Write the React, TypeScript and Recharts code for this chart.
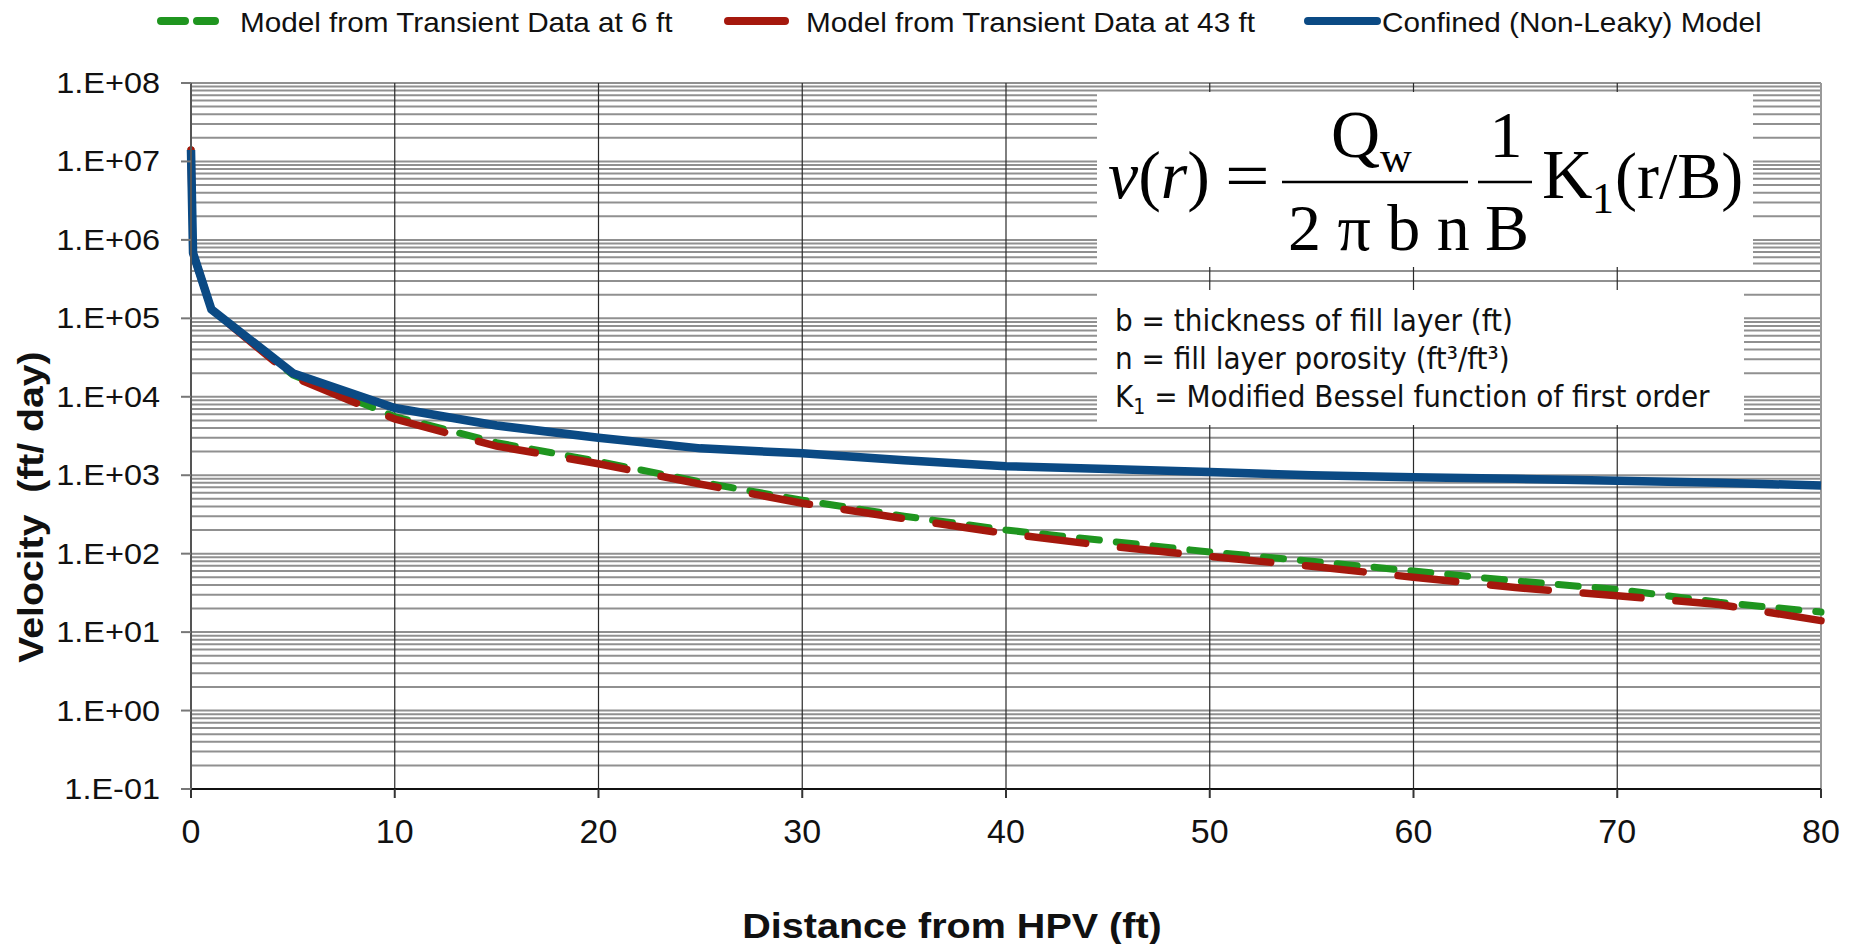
import React from 'react';
import { LineChart, Line, XAxis, YAxis, ReferenceLine, Legend } from 'recharts';

// distance from the HPV (ft) shared by all three model curves
const distance = [0, 0.1, 1, 5, 10, 15, 20, 25, 30, 35, 40, 45, 50, 55, 60, 65, 70, 75, 80];

// velocity (ft/day)
const transient6ftVelocity = [1.4e7, 6.8e5, 1.3e5, 1.9e4, 5.6e3, 2.6e3, 1.5e3, 8.2e2, 4.8e2, 3.0e2, 2.0e2, 1.45e2, 105, 80, 60, 45, 35, 24, 18];
const transient43ftVelocity = [1.4e7, 6.8e5, 1.3e5, 1.8e4, 5.2e3, 2.35e3, 1.4e3, 7.7e2, 4.4e2, 2.8e2, 1.8e2, 1.25e2, 92, 69, 50, 37, 29, 22.5, 14];
const confinedVelocity = [1.4e7, 6.8e5, 1.3e5, 2.0e4, 7.2e3, 4.3e3, 3.0e3, 2.2e3, 1.9e3, 1.55e3, 1.3e3, 1.2e3, 1.1e3, 1.0e3, 9.4e2, 9.0e2, 8.5e2, 8.0e2, 7.4e2];

const xTicks = [0, 10, 20, 30, 40, 50, 60, 70, 80];
const yTicks = [0.1, 1, 10, 1e2, 1e3, 1e4, 1e5, 1e6, 1e7, 1e8];
const yTickLabels = ['1.E-01', '1.E+00', '1.E+01', '1.E+02', '1.E+03', '1.E+04', '1.E+05', '1.E+06', '1.E+07', '1.E+08'];

const seriesNames = [
  'Model from Transient Data at 6 ft',
  'Model from Transient Data at 43 ft',
  'Confined (Non-Leaky) Model',
];

const GREEN = '#1f951f';
const RED = '#a5180d';
const BLUE = '#0b4a84';
const SANS = '"Liberation Sans", Arial, sans-serif';
const SERIF = '"Liberation Serif", "Times New Roman", serif';

const toPoints = (values: number[]) => distance.map((d, i) => ({ distance: d, velocity: values[i] }));

// log gridlines at every 1..9 x 10^n between the axis limits
const minorGrid: number[] = [];
for (let e = -1; e <= 7; e++) {
  for (let m = 1; m <= 9; m++) minorGrid.push(m * Math.pow(10, e));
}
minorGrid.push(1e8);

const YTick = (props: any) => {
  const { x, y, payload } = props;
  const label = yTickLabels[yTicks.indexOf(payload.value)];
  return (
    <text
      transform={`translate(${x},${y}) scale(1.12,1)`}
      dy={10}
      textAnchor="end"
      fontFamily={SANS}
      fontSize={29}
      fill="#111"
    >
      {label}
    </text>
  );
};

const XTick = (props: any) => {
  const { x, y, payload } = props;
  return (
    <text x={x} y={y} dy="0.71em" textAnchor="middle" fontFamily={SANS} fontSize={34} fill="#111">
      {payload.value}
    </text>
  );
};

const XTitle = (props: any) => {
  const vb = props.viewBox;
  const cx = vb.x + vb.width / 2 - 54;
  return (
    <text
      transform={`translate(${cx},${vb.y + 149}) scale(1.13,1)`}
      textAnchor="middle"
      fontFamily={SANS}
      fontWeight="bold"
      fontSize={35}
      fill="#111"
    >
      Distance from HPV (ft)
    </text>
  );
};

const YTitle = (props: any) => {
  const vb = props.viewBox;
  const cy = vb.y + vb.height / 2 + 71;
  return (
    <text
      transform={`translate(${vb.x + 43},${cy}) rotate(-90) scale(1.12,1)`}
      textAnchor="middle"
      fontFamily={SANS}
      fontWeight="bold"
      fontSize={35}
      fill="#111"
      style={{ whiteSpace: 'pre' }}
    >
      {'Velocity  (ft/ day)'}
    </text>
  );
};

const LegendRow = () => (
  <svg width={1860} height={44} style={{ display: 'block' }}>
    <line x1={161} x2={225} y1={21} y2={21} stroke={GREEN} strokeWidth={8} strokeLinecap="round" strokeDasharray="24 12 18 10 0.1 100" />
    <text transform="translate(240,32) scale(1.1,1)" fontFamily={SANS} fontSize={27} fill="#111">{seriesNames[0]}</text>
    <line x1={728} x2={785} y1={21} y2={21} stroke={RED} strokeWidth={8} strokeLinecap="round" />
    <text transform="translate(806,32) scale(1.1,1)" fontFamily={SANS} fontSize={27} fill="#111">{seriesNames[1]}</text>
    <line x1={1308} x2={1377} y1={21} y2={21} stroke={BLUE} strokeWidth={8} strokeLinecap="round" />
    <text transform="translate(1382,32) scale(1.1,1)" fontFamily={SANS} fontSize={27} fill="#111">{seriesNames[2]}</text>
  </svg>
);

// formula and symbol definitions drawn on white panels over the grid
const FormulaPanel = () => (
  <svg
    width={1860}
    height={944}
    style={{ position: 'absolute', left: 0, top: 0, pointerEvents: 'none' }}
  >
    <rect x={1097} y={92} width={656} height={175} fill="#fff" />
    <rect x={1097} y={290} width={647} height={135} fill="#fff" />
    <g fontFamily={SERIF} fill="#000">
      <text x={1108} y={198} fontSize={68}>
        <tspan fontStyle="italic">v</tspan>(<tspan fontStyle="italic">r</tspan>)
      </text>
      <text transform="translate(1225,198) scale(1.2,1)" fontSize={66}>=</text>
      <line x1={1282} x2={1468} y1={182} y2={182} stroke="#000" strokeWidth={2.5} />
      <text x={1331} y={157} fontSize={68}>Q</text>
      <text x={1380} y={172} fontSize={44}>w</text>
      <text x={1288} y={250} fontSize={66} style={{ whiteSpace: 'pre' }}>{'2 π b n'}</text>
      <text x={1506} y={157} fontSize={66} textAnchor="middle">1</text>
      <line x1={1478} x2={1532} y1={182} y2={182} stroke="#000" strokeWidth={2.5} />
      <text x={1507} y={250} fontSize={66} textAnchor="middle">B</text>
      <text x={1542} y={198} fontSize={70}>K</text>
      <text x={1592} y={213} fontSize={44}>1</text>
      <text x={1615} y={198} fontSize={66}>(r/B)</text>
    </g>
    <g fontFamily='"DejaVu Sans Condensed", "DejaVu Sans", sans-serif' fontSize={31} fill="#111">
      <text x={1115} y={331}>b = thickness of fill layer (ft)</text>
      <text x={1115} y={369}>n = fill layer porosity (ft³/ft³)</text>
      <text x={1115} y={407}>
        K<tspan fontSize={21} dy={7}>1</tspan>
        <tspan dy={-7}> = Modified Bessel function of first order</tspan>
      </text>
    </g>
  </svg>
);

export default function App() {
  const green = toPoints(transient6ftVelocity);
  const red = toPoints(transient43ftVelocity);
  const blue = toPoints(confinedVelocity);

  return (
    <div style={{ position: 'absolute', left: 0, top: 0, width: 1860, height: 944, background: '#fff' }}>
      <LineChart width={1860} height={944} margin={{ top: 39, right: 39, left: 0, bottom: 0 }}>
        <XAxis
          dataKey="distance"
          type="number"
          domain={[0, 80]}
          ticks={xTicks}
          interval={0}
          height={155}
          tickSize={9}
          tickMargin={21}
          axisLine={{ stroke: '#111', strokeWidth: 2 }}
          tickLine={{ stroke: '#333', strokeWidth: 2 }}
          tick={<XTick />}
          label={<XTitle />}
        />
        <YAxis
          type="number"
          scale="log"
          domain={[0.1, 1e8]}
          allowDataOverflow
          ticks={yTicks}
          interval={0}
          width={191}
          tickSize={10}
          tickMargin={21}
          axisLine={{ stroke: '#555', strokeWidth: 2 }}
          tickLine={{ stroke: '#777', strokeWidth: 2 }}
          tick={<YTick />}
          label={<YTitle />}
        />
        <Legend
          verticalAlign="top"
          align="left"
          wrapperStyle={{ top: 0, left: 0, width: 1860 }}
          content={() => <LegendRow />}
        />
        {minorGrid.map((v) => (
          <ReferenceLine key={`h${v}`} y={v} stroke="#909090" strokeWidth={2} />
        ))}
        {xTicks.slice(1, -1).map((v) => (
          <ReferenceLine key={`v${v}`} x={v} stroke="#2a2a2a" strokeWidth={1.2} />
        ))}
        <ReferenceLine x={80} stroke="#999" strokeWidth={2} />
        <Line
          data={green}
          dataKey="velocity"
          name={seriesNames[0]}
          type="linear"
          stroke={GREEN}
          strokeWidth={7}
          strokeDasharray="20 17"
          strokeLinecap="round"
          dot={false}
          isAnimationActive={false}
        />
        <Line
          data={red}
          dataKey="velocity"
          name={seriesNames[1]}
          type="linear"
          stroke={RED}
          strokeWidth={7.5}
          strokeDasharray="58 35"
          strokeLinecap="round"
          dot={false}
          isAnimationActive={false}
        />
        <Line
          data={blue}
          dataKey="velocity"
          name={seriesNames[2]}
          type="linear"
          stroke={BLUE}
          strokeWidth={8.5}
          strokeLinejoin="round"
          dot={false}
          isAnimationActive={false}
        />
      </LineChart>
      <FormulaPanel />
    </div>
  );
}
